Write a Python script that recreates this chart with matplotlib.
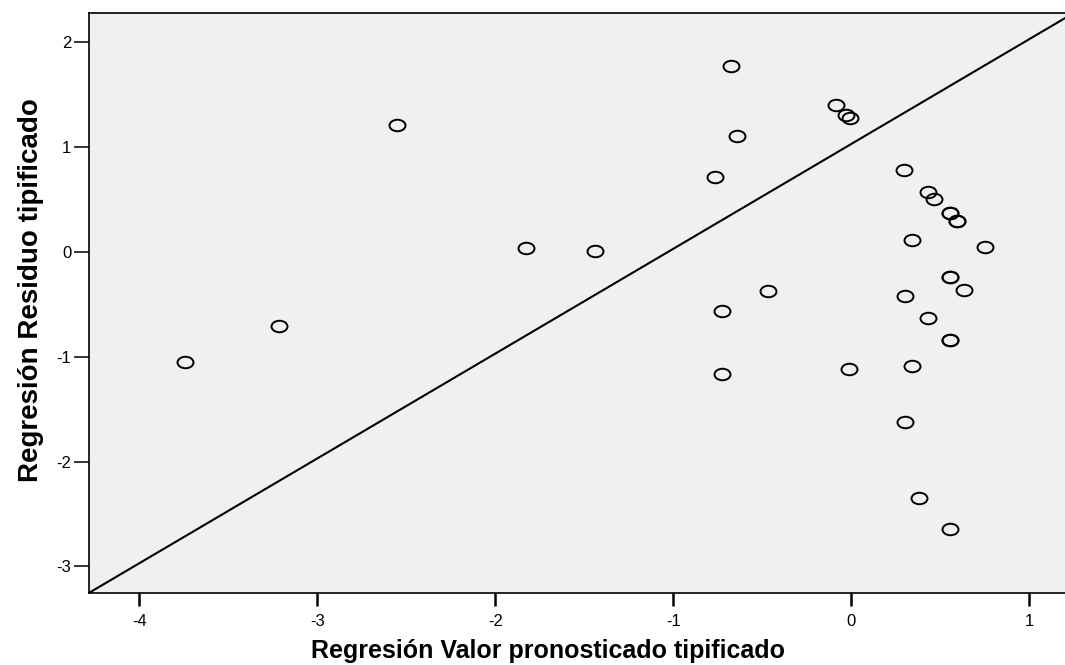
import numpy as np
import matplotlib
matplotlib.use('Agg')
import matplotlib.pyplot as plt
from matplotlib.path import Path

# Standardized predicted value (x) vs standardized residual (y)
pred_std = [-3.745, -3.215, -2.549, -1.828, -1.438,
            -0.676, -0.639, -0.764, -0.723, -0.723, -0.466,
            -0.083, -0.028, -0.004, -0.011,
            0.299, 0.431, 0.468, 0.558, 0.558, 0.597, 0.597,
            0.341, 0.753, 0.558, 0.558, 0.637, 0.302, 0.431,
            0.558, 0.558, 0.341, 0.303, 0.382, 0.556]
resid_std = [-1.047, -0.709, 1.212, 0.038, 0.010,
             1.772, 1.110, 0.719, -0.560, -1.161, -0.375,
             1.406, 1.307, 1.276, -1.114,
             0.780, 0.573, 0.506, 0.369, 0.369, 0.299, 0.299,
             0.117, 0.048, -0.236, -0.236, -0.363, -0.420, -0.627,
             -0.837, -0.837, -1.085, -1.622, -2.347, -2.643]

# reference line y = x + b
ref_slope = 1.0
ref_intercept = 1.03

x_ticks = [-4, -3, -2, -1, 0, 1]
y_ticks = [-3, -2, -1, 0, 1, 2]

plt.rcParams['font.family'] = ['Liberation Sans', 'DejaVu Sans']

fig = plt.figure(figsize=(10.65, 6.65), dpi=100)
ax = fig.add_axes([0.084, 0.1087, 0.916, 0.8713])
ax.set_facecolor('#F0F0F0')

# the reference is horizontally stretched -> slightly flattened circles
circ = Path.unit_circle()
ellipse = Path(circ.vertices * np.array([1.0, 0.72]), circ.codes)

ax.plot(pred_std, resid_std, linestyle='none', marker=ellipse, markersize=11.5,
        markerfacecolor='none', markeredgecolor='black', markeredgewidth=1.4, zorder=3)
ax.axline((0, ref_intercept), slope=ref_slope, color='black', linewidth=1.5, zorder=2)

ax.set_xlim(-4.28, 1.202)
ax.set_ylim(-3.251, 2.278)
ax.set_xticks(x_ticks)
ax.set_yticks(y_ticks)
ax.set_xticklabels([str(v) for v in x_ticks])
ax.set_yticklabels([str(v) for v in y_ticks])

ax.tick_params(axis='x', direction='out', length=9, width=1.8, pad=6, labelsize=12)
ax.tick_params(axis='y', direction='out', length=11, width=1.1, pad=2, labelsize=12)
for side in ['left', 'bottom', 'top']:
    ax.spines[side].set_linewidth(1.2)
ax.spines['right'].set_visible(False)

ax.set_xlabel('Regresión Valor pronosticado tipificado', fontsize=18, fontweight='bold')
ax.xaxis.set_label_coords(0.47, -0.080)
ax.set_ylabel('Regresión Residuo tipificado', fontsize=20, fontweight='bold')
ax.yaxis.set_label_coords(-0.047, 0.522)

fig.savefig('out.png', dpi=100)
